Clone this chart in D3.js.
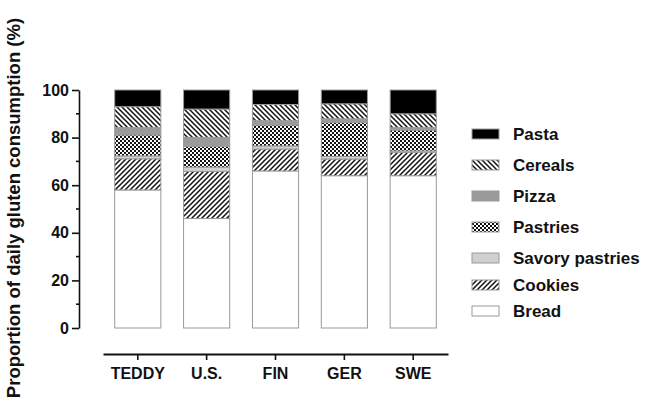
<!DOCTYPE html>
<html>
<head>
<meta charset="utf-8">
<script src="https://cdn.jsdelivr.net/npm/d3@7"></script>
<style>
  html, body { margin: 0; padding: 0; background: #fff; }
  svg { display: block; }
  text { font-family: "Liberation Sans", Arial, sans-serif; font-weight: bold; fill: #111; }
</style>
</head>
<body>
<svg id="chart" width="648" height="405"></svg>
<script>
// Countries / cohorts along the x axis
const countries = ["TEDDY", "U.S.", "FIN", "GER", "SWE"];

// Food sources, stacked from bottom to top
const foods = ["Bread", "Cookies", "Savory pastries", "Pastries", "Pizza", "Cereals", "Pasta"];

// Share of daily gluten consumption (%) per food, one value per country
const bread          = [58.0, 46.0, 66.0, 64.0, 64.0];
const cookies        = [13.1, 19.8,  9.2,  7.0,  9.8];
const savoryPastries = [ 1.2,  1.8,  1.3,  1.1,  0.6];
const pastries       = [ 8.8,  8.7,  8.8, 14.2,  8.8];
const pizza          = [ 3.1,  3.8,  1.8,  1.6,  1.0];
const cereals        = [ 8.8, 11.9,  6.8,  6.3,  5.8];
const pasta          = [ 7.0,  8.0,  6.1,  5.8, 10.0];

const yTicks = [0, 20, 40, 60, 80, 100];
const yMinorTicks = [10, 30, 50, 70, 90];

const seriesValues = [bread, cookies, savoryPastries, pastries, pizza, cereals, pasta];
const table = countries.map((c, i) => {
  const row = { country: c };
  foods.forEach((f, k) => { row[f] = seriesValues[k][i]; });
  return row;
});

const svg = d3.select("#chart");
const defs = svg.append("defs");

// Fill patterns
function hatch(id, dir) {
  const p = defs.append("pattern")
    .attr("id", id).attr("patternUnits", "userSpaceOnUse")
    .attr("width", 5).attr("height", 5);
  p.append("rect").attr("width", 5).attr("height", 5).attr("fill", "#fff");
  const d = dir > 0
    ? "M-1,6 L6,-1 M-1,1 L1,-1 M4,6 L6,4"
    : "M-1,-1 L6,6 M4,-1 L6,1 M-1,4 L1,6";
  p.append("path").attr("d", d).attr("stroke", "#111").attr("stroke-width", 1.5);
}
hatch("hatchFwd", 1);
hatch("hatchBack", -1);

const chk = defs.append("pattern")
  .attr("id", "checker").attr("patternUnits", "userSpaceOnUse")
  .attr("width", 4).attr("height", 4);
chk.append("rect").attr("width", 4).attr("height", 4).attr("fill", "#fff");
chk.append("rect").attr("width", 2).attr("height", 2).attr("fill", "#111");
chk.append("rect").attr("x", 2).attr("y", 2).attr("width", 2).attr("height", 2).attr("fill", "#111");

const fills = {
  "Bread": "#ffffff",
  "Cookies": "url(#hatchFwd)",
  "Savory pastries": "#d0d0d0",
  "Pastries": "url(#checker)",
  "Pizza": "#9a9a9a",
  "Cereals": "url(#hatchBack)",
  "Pasta": "#000000"
};

// Scales
const y = d3.scaleLinear().domain([0, 100]).range([328, 90]);
const x = d3.scaleBand().domain(countries).range([103, 448]).paddingInner(0.33).paddingOuter(0.17);

const stack = d3.stack().keys(foods)(table);

// Bars
svg.append("g")
  .selectAll("g")
  .data(stack)
  .join("g")
  .attr("fill", d => fills[d.key])
  .selectAll("rect")
  .data(d => d)
  .join("rect")
  .attr("x", d => x(d.data.country))
  .attr("width", x.bandwidth())
  .attr("y", d => y(d[1]))
  .attr("height", d => y(d[0]) - y(d[1]))
  .attr("stroke", "#9a9a9a")
  .attr("stroke-width", 1);

const labelFont = sel => sel.attr("fill", "#111")
  .style("font-family", "'Liberation Sans', Arial, sans-serif").style("font-weight", "bold");

// Y axis
const yAxis = svg.append("g").attr("transform", "translate(79,0)")
  .call(d3.axisLeft(y).tickValues(yTicks).tickSize(7).tickPadding(3).tickSizeOuter(0));
yAxis.select(".domain").attr("stroke", "#111").attr("stroke-width", 1.6);
yAxis.selectAll(".tick line").attr("stroke", "#111").attr("stroke-width", 1.6);
yAxis.selectAll("text").attr("font-size", 16).call(labelFont);
svg.append("g").attr("transform", "translate(79,0)")
  .selectAll("line").data(yMinorTicks).join("line")
  .attr("x1", -3).attr("x2", 0)
  .attr("y1", d => y(d)).attr("y2", d => y(d))
  .attr("stroke", "#111").attr("stroke-width", 1.6);

// X axis (offset below the plot)
const xAxis = svg.append("g").attr("transform", "translate(0,354)")
  .call(d3.axisBottom(x).tickSize(6).tickPadding(8).tickSizeOuter(0));
xAxis.select(".domain").attr("stroke", "#111").attr("stroke-width", 1.8);
xAxis.selectAll(".tick line").attr("stroke", "#111").attr("stroke-width", 1.6);
xAxis.selectAll("text").attr("font-size", 16).call(labelFont);

// Y axis title
svg.append("text")
  .attr("transform", "translate(20,208) rotate(-90)")
  .attr("text-anchor", "middle")
  .attr("font-size", 18.5)
  .text("Proportion of daily gluten consumption (%)");

// Legend, top to bottom
const legendOrder = foods.slice().reverse();
const legendY = [134, 165, 196, 227, 258, 285, 311];
const legend = svg.append("g")
  .selectAll("g")
  .data(legendOrder)
  .join("g")
  .attr("transform", (d, i) => `translate(472,${legendY[i]})`);
legend.append("rect")
  .attr("x", 0).attr("y", -5).attr("width", 27).attr("height", 10)
  .attr("fill", d => fills[d])
  .attr("stroke", "#9a9a9a").attr("stroke-width", 1);
legend.append("text")
  .attr("x", 41).attr("y", 0).attr("dy", "0.36em")
  .attr("font-size", 17)
  .text(d => d);
</script>
</body>
</html>
